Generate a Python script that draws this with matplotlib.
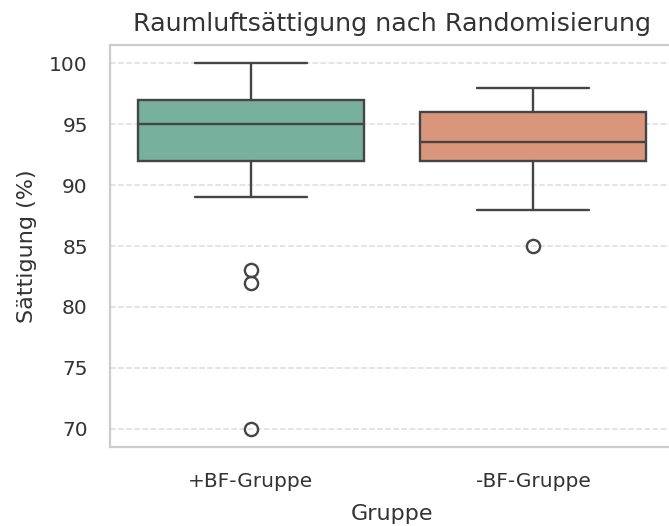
import matplotlib
matplotlib.use("Agg")
import matplotlib.pyplot as plt
import seaborn as sns

# Kennwerte der Sättigung je Gruppe (Whisker, Quartile, Median, Ausreißer)
gruppen = ["+BF-Gruppe", "-BF-Gruppe"]
whisker_unten = [89, 88]
q1 = [92, 92]
median = [95, 93.5]
q3 = [97, 96]
whisker_oben = [100, 98]
ausreisser = [[83, 82, 70], [85]]

sns.set_theme(style="whitegrid")
farben = ["#77b09c", "#d9967b"]
linienfarbe = "#454545"
textfarbe = "#333333"

stats = []
for i, name in enumerate(gruppen):
    stats.append({
        "label": name,
        "whislo": whisker_unten[i],
        "q1": q1[i],
        "med": median[i],
        "q3": q3[i],
        "whishi": whisker_oben[i],
        "fliers": ausreisser[i],
    })

fig = plt.figure(figsize=(6.69, 5.26), dpi=100)
ax = fig.add_axes([0.1644, 0.150, 0.8431, 0.7644])

lw = 1.7
bp = ax.bxp(
    stats,
    positions=range(len(gruppen)),
    widths=0.8,
    patch_artist=True,
    boxprops=dict(linewidth=lw, edgecolor=linienfarbe),
    medianprops=dict(color=linienfarbe, linewidth=lw),
    whiskerprops=dict(color=linienfarbe, linewidth=lw),
    capprops=dict(color=linienfarbe, linewidth=lw),
    capwidths=0.4,
    flierprops=dict(marker="o", markersize=9.5, markerfacecolor="none",
                    markeredgecolor=linienfarbe, markeredgewidth=lw),
)
for patch, farbe in zip(bp["boxes"], farben):
    patch.set_facecolor(farbe)

ax.set_xlim(-0.5, 1.5)
ax.set_yticks([70, 75, 80, 85, 90, 95, 100])
ax.grid(axis="y", linestyle="--", color="#dcdcdc", linewidth=1.1)
ax.grid(axis="x", visible=False)
ax.set_axisbelow(True)
for s in ax.spines.values():
    s.set_color("#cccccc")
    s.set_linewidth(1.6)

ax.tick_params(axis="both", labelsize=14.5, colors=textfarbe)
ax.tick_params(axis="y", pad=10)
ax.tick_params(axis="x", pad=12)
ax.set_title("Raumluftsättigung nach Randomisierung", fontsize=18.3,
             color=textfarbe, pad=10)
ax.set_xlabel("Gruppe", fontsize=16, color=textfarbe, labelpad=9)
ax.set_ylabel("Sättigung (%)", fontsize=16, color=textfarbe, labelpad=9)

fig.savefig("out.png", dpi=100)
